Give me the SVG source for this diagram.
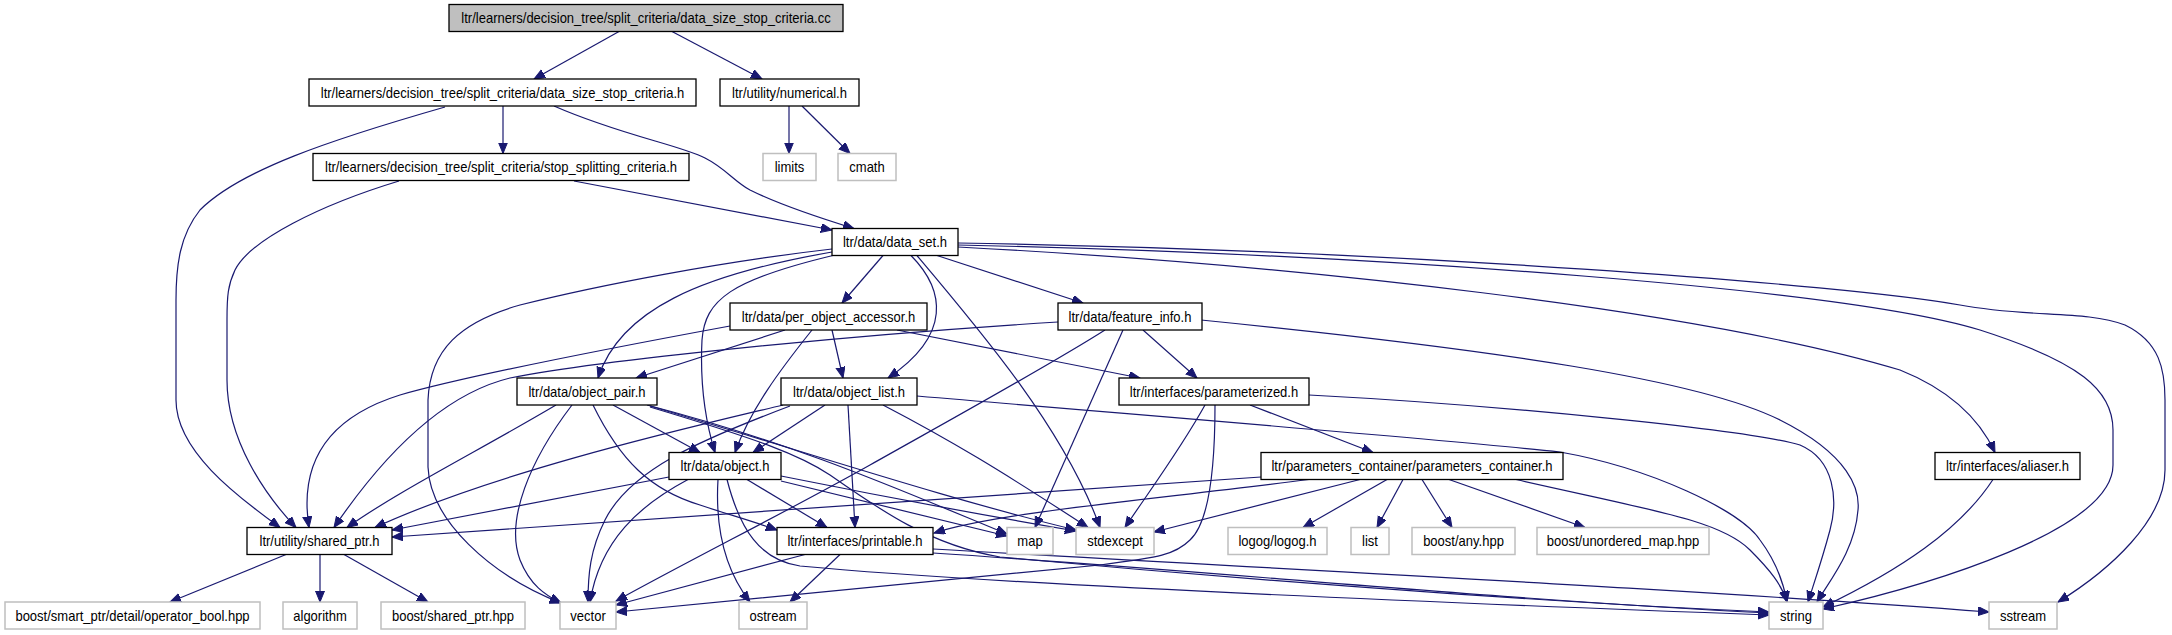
<svg xmlns="http://www.w3.org/2000/svg" width="2172" height="635" viewBox="0 0 2172 635">
<style>
.n rect{fill:#fff;stroke:#000;stroke-width:1.3}
.x rect{fill:#fff;stroke:#bfbfbf;stroke-width:1.5}
.r rect{fill:#bfbfbf;stroke:#000;stroke-width:1.3}
text{font-family:"Liberation Sans",Arial,Helvetica,sans-serif;font-size:14px;text-anchor:middle;fill:#000}
#edges path{fill:none;stroke:#191970;stroke-width:1.2;marker-end:url(#a)}
</style>
<defs>
<marker id="a" markerUnits="userSpaceOnUse" markerWidth="12" markerHeight="10" refX="11" refY="4.5" orient="auto">
<path d="M0,0 L11,4.5 L0,9 z" fill="#191970" stroke="#191970" stroke-width="1"/>
</marker>
</defs>
<rect width="2172" height="635" fill="#fff"/>
<g id="edges">
<path d="M619,31.5 L534,79"/>
<path d="M672,31.5 L762,79"/>
<path d="M789,106 L789,153.5"/>
<path d="M802,106 L850,153.5"/>
<path d="M503,106 L503,153.5"/>
<path d="M445,107 C330,140 240,170 200,210 C180,235 176,265 176,300 L176,400 C176,450 235,495 280,527.5"/>
<path d="M399,181 C320,205 250,240 235,270 C228,285 227,295 227,320 L227,380 C227,440 265,495 296,527.5"/>
<path d="M554,106 C620,135 680,145 705,158 C725,168 735,182 750,190 C780,205 820,218 854,228.5"/>
<path d="M574,181 L832,230"/>
<path d="M883,255.5 L842,303"/>
<path d="M937,255.5 L1083,303"/>
<path d="M832,252 C700,275 620,310 598,378"/>
<path d="M835,255 C730,280 705,300 702,340 C700,380 705,420 715,452.5"/>
<path d="M911,255.5 C945,290 952,335 888,378"/>
<path d="M917,255.5 C980,330 1065,430 1100,527.5"/>
<path d="M832,249 C720,262 600,285 520,305 C460,322 430,350 428,400 L428,467 C430,520 490,575 561,603"/>
<path d="M958,247 C1300,265 1700,310 1900,370 C1950,390 1980,420 1995,452.5"/>
<path d="M958,245 C1400,255 1850,290 1980,330 C2080,362 2113,390 2113,430 L2113,465 C2113,530 1930,585 1823,609"/>
<path d="M958,243 C1400,250 1850,285 1960,305 C2030,318 2085,310 2125,325 C2160,342 2165,370 2165,400 L2165,470 C2165,520 2110,570 2058,602"/>
<path d="M785,330 L636,378"/>
<path d="M812,330 C780,370 750,410 735,452.5"/>
<path d="M832,330 L843,378"/>
<path d="M897,330 L1140,378"/>
<path d="M730,326 C600,350 470,375 400,395 C320,420 300,470 309,527.5"/>
<path d="M1058,322 C850,335 600,360 510,378 C440,395 380,460 334,527.5"/>
<path d="M1105,330 C1050,365 950,420 870,465 C790,510 690,560 616,601"/>
<path d="M1123,330 L1035,527.5"/>
<path d="M1143,330 L1197,378"/>
<path d="M1201,320 C1500,350 1700,380 1780,420 C1850,455 1860,490 1858,510 C1855,550 1830,580 1817,602"/>
<path d="M556,405 C480,450 400,490 347,527.5"/>
<path d="M572,405 C530,460 505,520 520,560 C530,585 545,595 561,603"/>
<path d="M613,405 L700,452.5"/>
<path d="M593,405 C620,460 650,490 700,505 C730,515 755,522 777,530"/>
<path d="M647,405 C800,445 900,490 1007,534"/>
<path d="M650,406 C800,450 950,500 1076,530"/>
<path d="M650,407 C760,440 800,455 830,475 C880,510 930,545 1000,557 C1300,585 1600,605 1769,612"/>
<path d="M825,405 L753,452.5"/>
<path d="M848,405 L855,527.5"/>
<path d="M783,405 C700,425 500,470 375,527.5"/>
<path d="M790,406 C700,440 630,470 605,520 C590,550 588,575 588,602"/>
<path d="M883,405 C950,440 1000,470 1088,527.5"/>
<path d="M917,396 C1200,420 1450,440 1560,452 C1650,468 1740,510 1760,540 C1775,560 1783,580 1787,602"/>
<path d="M669,477 L392,530"/>
<path d="M688,479.5 C640,505 600,540 590,602"/>
<path d="M718,479.5 C715,530 725,570 750,602"/>
<path d="M747,479.5 L827,527.5"/>
<path d="M781,481 L1007,536"/>
<path d="M781,476 C900,500 1000,518 1076,531"/>
<path d="M727,479.5 C740,530 760,560 800,566 C1000,585 1500,605 1769,615"/>
<path d="M1261,477 L392,537"/>
<path d="M1309,479.5 C1150,500 1000,512 934,533"/>
<path d="M1360,479.5 L1154,532"/>
<path d="M1387,479.5 L1303,527.5"/>
<path d="M1403,479.5 L1377,527.5"/>
<path d="M1422,479.5 L1452,527.5"/>
<path d="M1449,479.5 L1585,527.5"/>
<path d="M1516,479.5 C1650,510 1720,520 1750,550 C1770,570 1782,585 1787,602"/>
<path d="M1250,405 L1373,452.5"/>
<path d="M1205,405 C1180,450 1150,490 1125,527.5"/>
<path d="M1215,405 C1215,450 1212,520 1190,540 C1175,555 1160,557 1100,565 C900,585 700,605 616,612"/>
<path d="M1309,395 C1500,405 1750,430 1800,445 C1835,460 1838,500 1830,530 C1822,560 1815,580 1808,602"/>
<path d="M1993,479.5 C1960,530 1900,570 1823,607"/>
<path d="M805,554.5 L616,605"/>
<path d="M840,554.5 L790,602"/>
<path d="M933,549 C1300,570 1700,590 1989,612"/>
<path d="M933,553 C1200,570 1500,600 1769,613"/>
<path d="M286,554.5 L170,602"/>
<path d="M320,554.5 L320,602"/>
<path d="M344,554.5 L428,602"/>
</g>
<g id="node_root" class="r"><rect x="449" y="4.5" width="394" height="27"/><text transform="matrix(0.93,0,0,1,646,23)">ltr/learners/decision_tree/split_criteria/data_size_stop_criteria.cc</text></g>
<g id="node_dssc_h" class="n"><rect x="309" y="79" width="387" height="27"/><text transform="matrix(0.93,0,0,1,502.5,97.5)">ltr/learners/decision_tree/split_criteria/data_size_stop_criteria.h</text></g>
<g id="node_numerical" class="n"><rect x="720" y="79" width="139" height="27"/><text transform="matrix(0.93,0,0,1,789.5,97.5)">ltr/utility/numerical.h</text></g>
<g id="node_stop_split" class="n"><rect x="313" y="153.5" width="376" height="27"/><text transform="matrix(0.93,0,0,1,501,172)">ltr/learners/decision_tree/split_criteria/stop_splitting_criteria.h</text></g>
<g id="node_limits" class="x"><rect x="763" y="153.5" width="53" height="27"/><text transform="matrix(0.93,0,0,1,789.5,172)">limits</text></g>
<g id="node_cmath" class="x"><rect x="838" y="153.5" width="58" height="27"/><text transform="matrix(0.93,0,0,1,867,172)">cmath</text></g>
<g id="node_data_set" class="n"><rect x="832" y="228.5" width="126" height="27"/><text transform="matrix(0.93,0,0,1,895,247)">ltr/data/data_set.h</text></g>
<g id="node_per_object_accessor" class="n"><rect x="730" y="303" width="197" height="27"/><text transform="matrix(0.93,0,0,1,828.5,321.5)">ltr/data/per_object_accessor.h</text></g>
<g id="node_feature_info" class="n"><rect x="1058" y="303" width="144" height="27"/><text transform="matrix(0.93,0,0,1,1130,321.5)">ltr/data/feature_info.h</text></g>
<g id="node_object_pair" class="n"><rect x="517" y="378" width="140" height="27"/><text transform="matrix(0.93,0,0,1,587,396.5)">ltr/data/object_pair.h</text></g>
<g id="node_object_list" class="n"><rect x="781" y="378" width="136" height="27"/><text transform="matrix(0.93,0,0,1,849,396.5)">ltr/data/object_list.h</text></g>
<g id="node_parameterized" class="n"><rect x="1119" y="378" width="190" height="27"/><text transform="matrix(0.93,0,0,1,1214,396.5)">ltr/interfaces/parameterized.h</text></g>
<g id="node_object" class="n"><rect x="669" y="452.5" width="112" height="27"/><text transform="matrix(0.93,0,0,1,725,471)">ltr/data/object.h</text></g>
<g id="node_parameters_container" class="n"><rect x="1261" y="452.5" width="302" height="27"/><text transform="matrix(0.93,0,0,1,1412,471)">ltr/parameters_container/parameters_container.h</text></g>
<g id="node_aliaser" class="n"><rect x="1935" y="452.5" width="145" height="27"/><text transform="matrix(0.93,0,0,1,2007.5,471)">ltr/interfaces/aliaser.h</text></g>
<g id="node_shared_ptr" class="n"><rect x="247" y="527.5" width="145" height="27"/><text transform="matrix(0.93,0,0,1,319.5,546)">ltr/utility/shared_ptr.h</text></g>
<g id="node_printable" class="n"><rect x="777" y="527.5" width="156" height="27"/><text transform="matrix(0.93,0,0,1,855,546)">ltr/interfaces/printable.h</text></g>
<g id="node_map" class="x"><rect x="1007" y="527.5" width="46" height="27"/><text transform="matrix(0.93,0,0,1,1030,546)">map</text></g>
<g id="node_stdexcept" class="x"><rect x="1076" y="527.5" width="78" height="27"/><text transform="matrix(0.93,0,0,1,1115,546)">stdexcept</text></g>
<g id="node_logog" class="x"><rect x="1228" y="527.5" width="99" height="27"/><text transform="matrix(0.93,0,0,1,1277.5,546)">logog/logog.h</text></g>
<g id="node_list" class="x"><rect x="1351" y="527.5" width="38" height="27"/><text transform="matrix(0.93,0,0,1,1370,546)">list</text></g>
<g id="node_any" class="x"><rect x="1412" y="527.5" width="103" height="27"/><text transform="matrix(0.93,0,0,1,1463.5,546)">boost/any.hpp</text></g>
<g id="node_unordered_map" class="x"><rect x="1537" y="527.5" width="172" height="27"/><text transform="matrix(0.93,0,0,1,1623,546)">boost/unordered_map.hpp</text></g>
<g id="node_operator_bool" class="x"><rect x="5" y="602" width="255" height="27"/><text transform="matrix(0.93,0,0,1,132.5,620.5)">boost/smart_ptr/detail/operator_bool.hpp</text></g>
<g id="node_algorithm" class="x"><rect x="283" y="602" width="74" height="27"/><text transform="matrix(0.93,0,0,1,320,620.5)">algorithm</text></g>
<g id="node_boost_shared_ptr" class="x"><rect x="381" y="602" width="144" height="27"/><text transform="matrix(0.93,0,0,1,453,620.5)">boost/shared_ptr.hpp</text></g>
<g id="node_vector" class="x"><rect x="560" y="602" width="56" height="27"/><text transform="matrix(0.93,0,0,1,588,620.5)">vector</text></g>
<g id="node_ostream" class="x"><rect x="739" y="602" width="68" height="27"/><text transform="matrix(0.93,0,0,1,773,620.5)">ostream</text></g>
<g id="node_string" class="x"><rect x="1769" y="602" width="54" height="27"/><text transform="matrix(0.93,0,0,1,1796,620.5)">string</text></g>
<g id="node_sstream" class="x"><rect x="1989" y="602" width="68" height="27"/><text transform="matrix(0.93,0,0,1,2023,620.5)">sstream</text></g>
</svg>
